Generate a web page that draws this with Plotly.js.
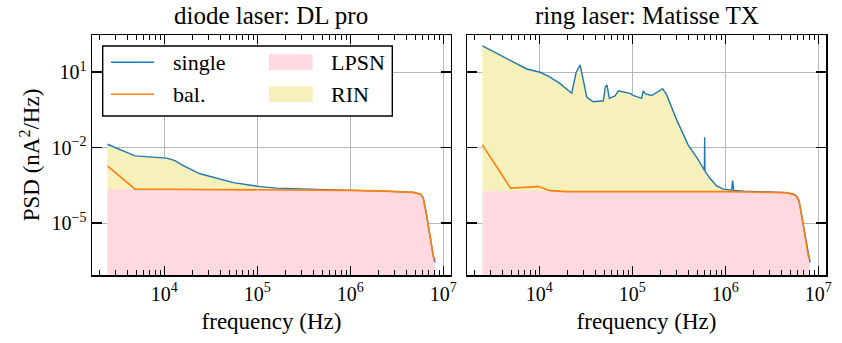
<!DOCTYPE html>
<html>
<head>
<meta charset="utf-8">
<script src="https://cdn.plot.ly/plotly-3.0.1.min.js"></script>
<style>
  html, body { margin: 0; padding: 0; background: #ffffff; }
  #chart { width: 842px; height: 343px; }
</style>
</head>
<body>
<div id="chart"></div>
<script>
// Photocurrent noise PSD (nA^2/Hz) versus frequency (Hz), single-detector vs balanced.

// ---- diode laser: DL pro ----
const dlSingleF = [2440, 4840, 10600, 13000, 15400, 24200, 55200, 107000, 162000, 309000,
                   1.0e6, 2.0e6, 3.16e6, 4.79e6, 5.71e6, 6.10e6, 6.61e6, 7.19e6, 7.82e6, 8.15e6];
const dlSinglePSD = [0.01355, 0.00468, 0.0038, 0.00302, 0.00204, 0.000912, 0.000407, 0.000282, 0.000245, 0.000224,
                     2.0e-4, 1.91e-4, 1.82e-4, 1.66e-4, 1.41e-4, 9.8e-5, 2.14e-5, 2.95e-6, 4.8e-7, 2.75e-7];

const dlBalF = [2440, 4840, 1.0e4, 1.0e5, 3.16e5, 1.0e6, 2.0e6, 3.16e6, 4.79e6, 5.71e6,
                6.10e6, 6.61e6, 7.19e6, 7.82e6, 8.15e6];
const dlBalPSD = [1.86e-3, 2.24e-4, 2.2e-4, 2.14e-4, 2.09e-4, 2.0e-4, 1.91e-4, 1.82e-4, 1.66e-4, 1.41e-4,
                  9.8e-5, 2.14e-5, 2.95e-6, 4.8e-7, 3.55e-7];

const dlLpsnF = [2440, 1.0e6, 2.0e6, 3.16e6, 4.79e6, 5.71e6, 6.10e6, 6.61e6, 7.19e6, 7.82e6, 8.15e6];
const dlLpsnPSD = [2.24e-4, 2.1e-4, 1.95e-4, 1.82e-4, 1.66e-4, 1.41e-4, 9.8e-5, 2.14e-5, 2.95e-6, 4.8e-7, 3.55e-7];

// ---- ring laser: Matisse TX ----
const mtSingleF = [2440, 7330, 10190, 12500, 16600, 22300, 24800, 27400, 29700, 32400,
                   38000, 45000, 48800, 51300, 53500, 56600, 65200, 70800, 79400, 94400,
                   102000, 126000, 131000, 139000, 162000, 212000, 234000, 300000, 398000, 513000,
                   596000, 600000, 604000, 684000, 807000, 951000, 1.17e6, 1.20e6, 1.23e6, 1.6e6,
                   2.34e6, 3.2e6, 4.5e6, 5.37e6, 5.89e6, 6.2e6, 6.61e6, 7.19e6, 7.82e6, 8.15e6];
const mtSinglePSD = [109.6, 13.2, 9.77, 6.92, 3.55, 1.43, 9.33, 19.05, 4.79, 0.99,
                     0.66, 0.676, 0.724, 2.63, 3.02, 0.90, 1.12, 1.78, 1.62, 1.43,
                     1.19, 0.90, 1.78, 1.35, 1.17, 2.19, 1.23, 0.126, 0.0129, 3.24e-3,
                     1.26e-3, 0.0257, 1.17e-3, 6.03e-4, 3.02e-4, 2.24e-4, 2.04e-4, 4.9e-4, 2.0e-4, 1.86e-4,
                     1.78e-4, 1.70e-4, 1.62e-4, 1.45e-4, 1.15e-4, 7.9e-5, 2.14e-5, 2.95e-6, 4.8e-7, 2.75e-7];

const mtBalF = [2440, 4900, 9800, 13000, 19500, 50000, 100000, 300000, 1.0e6, 2.34e6,
                3.2e6, 4.5e6, 5.62e6, 6.2e6, 6.61e6, 7.19e6, 7.82e6, 8.15e6];
const mtBalPSD = [0.01276, 2.45e-4, 2.82e-4, 1.95e-4, 1.78e-4, 1.82e-4, 1.78e-4, 1.78e-4, 1.78e-4, 1.74e-4,
                  1.70e-4, 1.62e-4, 1.32e-4, 7.9e-5, 2.14e-5, 2.95e-6, 4.8e-7, 3.55e-7];

const mtLpsnF = [2440, 1.0e6, 2.34e6, 3.2e6, 4.5e6, 5.62e6, 6.2e6, 6.61e6, 7.19e6, 7.82e6, 8.15e6];
const mtLpsnPSD = [1.91e-4, 1.86e-4, 1.78e-4, 1.70e-4, 1.62e-4, 1.32e-4, 7.9e-5, 2.14e-5, 2.95e-6, 4.8e-7, 3.55e-7];

// ---- labels ----
const panelTitles = ['diode laser: DL pro', 'ring laser: Matisse TX'];
const seriesNames = ['single', 'bal.', 'LPSN', 'RIN'];
const xTickVals = [1e4, 1e5, 1e6, 1e7];
const xTickText = ['10<sup>4</sup>', '10<sup>5</sup>', '10<sup>6</sup>', '10<sup>7</sup>'];
const yTickVals = [1e1, 1e-2, 1e-5];
const yTickText = ['10<sup>1</sup>', '10<sup>\u22122</sup>', '10<sup>\u22125</sup>'];

const C_SINGLE = '#1f77b4';
const C_BAL = '#ff7f0e';
const C_LPSN = '#ffd9e0';
const C_RIN = '#f6f0ba';
const FONT = 'Liberation Serif, Times New Roman, serif';

function panelTraces(xa, ya, sF, sP, bF, bP, lF, lP) {
  return [
    { x: lF, y: lP, xaxis: xa, yaxis: ya, type: 'scatter', mode: 'lines', name: seriesNames[2],
      line: { width: 0, color: C_LPSN }, fill: 'tozeroy', fillcolor: C_LPSN, hoverinfo: 'skip' },
    { x: sF, y: sP, xaxis: xa, yaxis: ya, type: 'scatter', mode: 'lines', name: seriesNames[3],
      line: { width: 0, color: C_RIN }, fill: 'tonexty', fillcolor: C_RIN, hoverinfo: 'skip' },
    { x: sF, y: sP, xaxis: xa, yaxis: ya, type: 'scatter', mode: 'lines', name: seriesNames[0],
      line: { width: 1.4, color: C_SINGLE } },
    { x: bF, y: bP, xaxis: xa, yaxis: ya, type: 'scatter', mode: 'lines', name: seriesNames[1],
      line: { width: 1.6, color: C_BAL } }
  ];
}

const data = [].concat(
  panelTraces('x', 'y', dlSingleF, dlSinglePSD, dlBalF, dlBalPSD, dlLpsnF, dlLpsnPSD),
  panelTraces('x2', 'y2', mtSingleF, mtSinglePSD, mtBalF, mtBalPSD, mtLpsnF, mtLpsnPSD)
);

function xAxis(domain, anchor) {
  return {
    domain: domain, anchor: anchor, type: 'log', range: [3.222, 7.083],
    showline: true, linecolor: 'black', linewidth: 1.5, mirror: 'ticks',
    ticks: 'inside', ticklen: 9, tickwidth: 1.5, tickcolor: 'black',
    tickmode: 'array', tickvals: xTickVals, ticktext: xTickText,
    tickfont: { family: FONT, size: 20, color: 'black' },
    showgrid: true, gridcolor: '#b8b8b8', gridwidth: 1, zeroline: false,
    minor: { ticks: 'inside', ticklen: 5, tickwidth: 1, tickcolor: 'black', dtick: 'D1', showgrid: false },
    title: { text: 'frequency (Hz)', font: { family: FONT, size: 23, color: 'black' }, standoff: 9 }
  };
}

function yAxis(anchor, labels) {
  const ax = {
    anchor: anchor, type: 'log', range: [-7.06, 2.47],
    showline: true, linecolor: 'black', linewidth: 1.5, mirror: 'ticks',
    ticks: 'inside', ticklen: 10, tickwidth: 1.5, tickcolor: 'black',
    tickmode: 'array', tickvals: yTickVals, ticktext: yTickText,
    showticklabels: labels,
    tickfont: { family: FONT, size: 20, color: 'black' },
    showgrid: true, gridcolor: '#b8b8b8', gridwidth: 1, zeroline: false
  };
  if (labels) {
    ax.title = { text: 'PSD (nA<sup>2</sup>/Hz)', font: { family: FONT, size: 23, color: 'black' }, standoff: 5 };
  }
  return ax;
}

// legend drawn inside the left panel (domain coordinates)
const L = { xref: 'x domain', yref: 'y domain' };
const shapes = [
  Object.assign({ type: 'rect', x0: 0.0298, x1: 0.8365, y0: 0.6625, y1: 0.954,
    fillcolor: 'white', line: { color: 'black', width: 1.4 }, layer: 'above' }, L),
  Object.assign({ type: 'line', x0: 0.0529, x1: 0.1727, y0: 0.8863, y1: 0.8863,
    line: { color: C_SINGLE, width: 1.4 }, layer: 'above' }, L),
  Object.assign({ type: 'line', x0: 0.0529, x1: 0.1727, y0: 0.7529, y1: 0.7529,
    line: { color: C_BAL, width: 1.6 }, layer: 'above' }, L),
  Object.assign({ type: 'rect', x0: 0.493, x1: 0.6148, y0: 0.8529, y1: 0.9196,
    fillcolor: C_LPSN, line: { width: 0 }, layer: 'above' }, L),
  Object.assign({ type: 'rect', x0: 0.493, x1: 0.6148, y0: 0.7208, y1: 0.7863,
    fillcolor: C_RIN, line: { width: 0 }, layer: 'above' }, L)
];

const legendFont = { family: FONT, size: 22, color: 'black' };
const titleFont = { family: FONT, size: 25, color: 'black' };
const annotations = [
  Object.assign({ text: seriesNames[0], x: 0.22, y: 0.8863, xanchor: 'left', yanchor: 'middle', showarrow: false, font: legendFont }, L),
  Object.assign({ text: seriesNames[1], x: 0.22, y: 0.7529, xanchor: 'left', yanchor: 'middle', showarrow: false, font: legendFont }, L),
  Object.assign({ text: seriesNames[2], x: 0.66, y: 0.8863, xanchor: 'left', yanchor: 'middle', showarrow: false, font: legendFont }, L),
  Object.assign({ text: seriesNames[3], x: 0.66, y: 0.7529, xanchor: 'left', yanchor: 'middle', showarrow: false, font: legendFont }, L),
  { text: panelTitles[0], xref: 'x domain', yref: 'y domain', x: 0.5, y: 1, xanchor: 'center', yanchor: 'middle',
    yshift: 20, borderpad: 0, showarrow: false, font: titleFont },
  { text: panelTitles[1], xref: 'x2 domain', yref: 'y2 domain', x: 0.5, y: 1, xanchor: 'center', yanchor: 'middle',
    yshift: 20, borderpad: 0, showarrow: false, font: titleFont }
];

const layout = {
  width: 842, height: 343,
  margin: { l: 92, r: 16, t: 35, b: 68 },
  paper_bgcolor: 'white', plot_bgcolor: 'white',
  font: { family: FONT, size: 20, color: 'black' },
  showlegend: false,
  xaxis: xAxis([0, 0.4891], 'y'),
  xaxis2: xAxis([0.5109, 1], 'y2'),
  yaxis: yAxis('x', true),
  yaxis2: yAxis('x2', false),
  shapes: shapes,
  annotations: annotations
};

Plotly.newPlot('chart', data, layout, { staticPlot: true, displayModeBar: false });
</script>
</body>
</html>
